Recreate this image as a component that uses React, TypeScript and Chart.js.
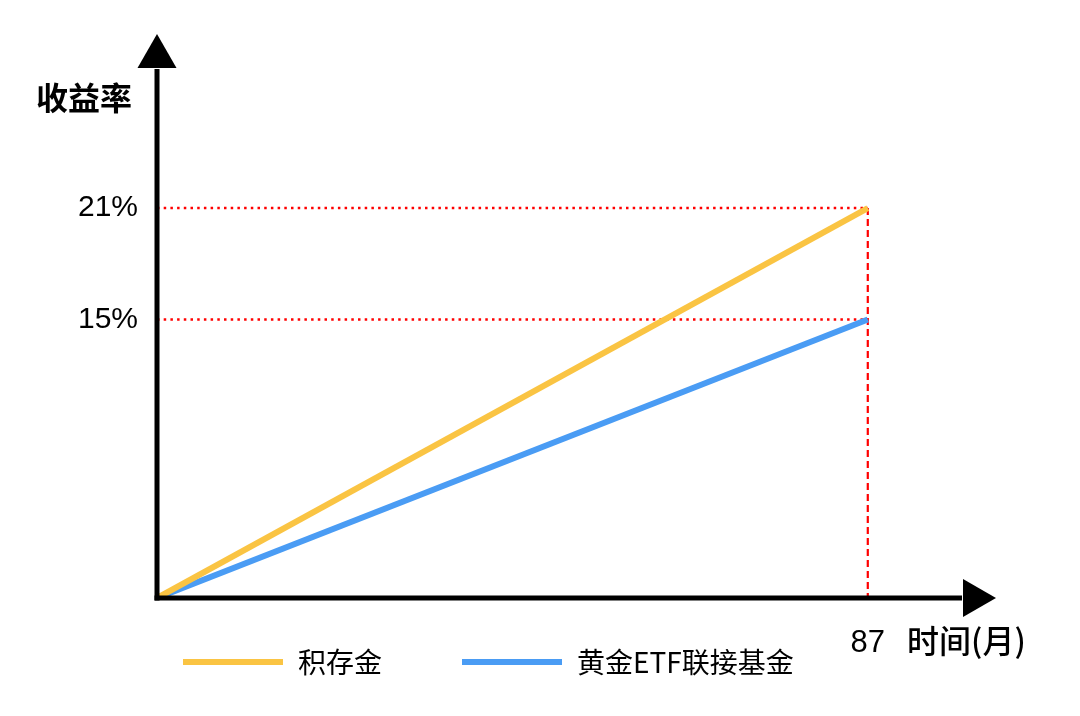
import React, { useEffect, useRef } from "react";
import { Chart, registerables } from "chart.js";

Chart.register(...registerables);

// ---- data ----
const seriesNames = ["积存金", "黄金ETF联接基金"];
const seriesColors = ["#FAC443", "#4A9CF4"];
const months = [0, 87];
const goldAccumulationReturns = [0, 21];
const goldEtfLinkedReturns = [0, 15];
const yTickValues = [15, 21];
const xTickValues = [87];
const guideReturns = [21, 15];
const guideMonth = 87;
const yAxisTitle = "收益率";
const xAxisTitle = "时间(月)";

const CJK = '"Noto Sans CJK SC", "Noto Sans", sans-serif';
const LATIN = '"Liberation Sans", Arial, sans-serif';

const decorPlugin = {
  id: "decor",
  beforeDatasetsDraw(chart: any) {
    const { ctx, scales } = chart;
    const xs = scales.x;
    const ys = scales.y;
    const x0 = xs.getPixelForValue(0);
    const y0 = ys.getPixelForValue(0);
    const gx = xs.getPixelForValue(guideMonth);
    ctx.save();
    ctx.strokeStyle = "#FF0000";
    ctx.lineWidth = 2.5;
    ctx.setLineDash([2.5, 4.2]);
    guideReturns.forEach((v) => {
      const py = ys.getPixelForValue(v);
      ctx.beginPath();
      ctx.moveTo(x0, py);
      ctx.lineTo(gx, py);
      ctx.stroke();
    });
    ctx.lineWidth = 2.2;
    ctx.setLineDash([7, 4]);
    ctx.beginPath();
    ctx.moveTo(gx, ys.getPixelForValue(Math.max(...guideReturns)));
    ctx.lineTo(gx, y0);
    ctx.stroke();
    ctx.restore();
  },
  afterDatasetsDraw(chart: any) {
    const { ctx, scales, chartArea } = chart;
    const xs = scales.x;
    const ys = scales.y;
    const x0 = xs.getPixelForValue(0);
    const y0 = ys.getPixelForValue(0);
    ctx.save();
    ctx.setLineDash([]);
    ctx.strokeStyle = "#000";
    ctx.fillStyle = "#000";
    ctx.lineWidth = 5;
    // y axis
    const yTip = chartArea.top - 7;
    const yBase = chartArea.top + 27;
    ctx.beginPath();
    ctx.moveTo(x0, y0 + 2.5);
    ctx.lineTo(x0, yBase + 1);
    ctx.stroke();
    ctx.beginPath();
    ctx.moveTo(x0, yTip);
    ctx.lineTo(x0 - 19.5, yBase);
    ctx.lineTo(x0 + 19.5, yBase);
    ctx.closePath();
    ctx.fill();
    // x axis
    const xBase = chartArea.right - 11;
    const xTip = chartArea.right + 22;
    ctx.beginPath();
    ctx.moveTo(x0 - 2.5, y0);
    ctx.lineTo(xBase - 1, y0);
    ctx.stroke();
    ctx.beginPath();
    ctx.moveTo(xTip, y0);
    ctx.lineTo(xBase, y0 - 19);
    ctx.lineTo(xBase, y0 + 19);
    ctx.closePath();
    ctx.fill();

    // axis titles
    ctx.textBaseline = "middle";
    ctx.textAlign = "left";
    ctx.font = `bold 32px ${CJK}`;
    ctx.fillText(yAxisTitle, 36, 98);
    ctx.font = `500 32px ${CJK}`;
    ctx.fillText(xAxisTitle, 907, 641);

    // legend
    const legendX = [183, 462];
    const legendY = 662;
    ctx.font = `28px ${CJK}`;
    chart.data.datasets.forEach((ds: any, i: number) => {
      ctx.strokeStyle = ds.borderColor;
      ctx.lineWidth = 6;
      ctx.beginPath();
      ctx.moveTo(legendX[i], legendY);
      ctx.lineTo(legendX[i] + 100, legendY);
      ctx.stroke();
      ctx.fillStyle = "#000";
      ctx.fillText(ds.label, legendX[i] + 115, legendY);
    });
    ctx.restore();
  },
};

export default function App() {
  const ref = useRef<HTMLCanvasElement | null>(null);

  useEffect(() => {
    if (!ref.current) return;
    const chart = new Chart(ref.current, {
      type: "line",
      data: {
        datasets: [
          {
            label: seriesNames[0],
            data: months.map((m, i) => ({ x: m, y: goldAccumulationReturns[i] })),
            borderColor: seriesColors[0],
            backgroundColor: seriesColors[0],
            borderWidth: 6,
            pointRadius: 0,
            borderCapStyle: "butt",
          },
          {
            label: seriesNames[1],
            data: months.map((m, i) => ({ x: m, y: goldEtfLinkedReturns[i] })),
            borderColor: seriesColors[1],
            backgroundColor: seriesColors[1],
            borderWidth: 6,
            pointRadius: 0,
            borderCapStyle: "butt",
          },
        ],
      },
      options: {
        responsive: false,
        animation: false,
        devicePixelRatio: 1,
        layout: { padding: { top: 41, right: 106, bottom: 0, left: 0 } },
        plugins: {
          legend: { display: false },
          tooltip: { enabled: false },
        },
        scales: {
          x: {
            type: "linear",
            min: 0,
            max: 100,
            position: "bottom",
            grid: { display: false, drawTicks: false },
            border: { display: false },
            afterBuildTicks: (s: any) => {
              s.ticks = xTickValues.map((v) => ({ value: v }));
            },
            afterFit: (s: any) => {
              s.height = 118;
            },
            ticks: {
              padding: 27,
              color: "#000",
              font: { family: LATIN, size: 31 },
              maxRotation: 0,
              autoSkip: false,
              callback: (v: any) => String(v),
            },
          },
          y: {
            type: "linear",
            min: 0,
            max: 30,
            position: "left",
            grid: { display: false, drawTicks: false },
            border: { display: false },
            afterBuildTicks: (s: any) => {
              s.ticks = yTickValues.map((v) => ({ value: v }));
            },
            afterFit: (s: any) => {
              s.width = 157;
            },
            ticks: {
              padding: 19,
              color: "#000",
              font: { family: LATIN, size: 30 },
              autoSkip: false,
              callback: (v: any) => `${v}%`,
            },
          },
        },
      },
      plugins: [decorPlugin],
    } as any);
    return () => chart.destroy();
  }, []);

  return (
    <div
      style={{
        position: "absolute",
        left: 0,
        top: 0,
        width: 1080,
        height: 716,
        background: "#fff",
      }}
    >
      <canvas ref={ref} width={1080} height={716} />
    </div>
  );
}
